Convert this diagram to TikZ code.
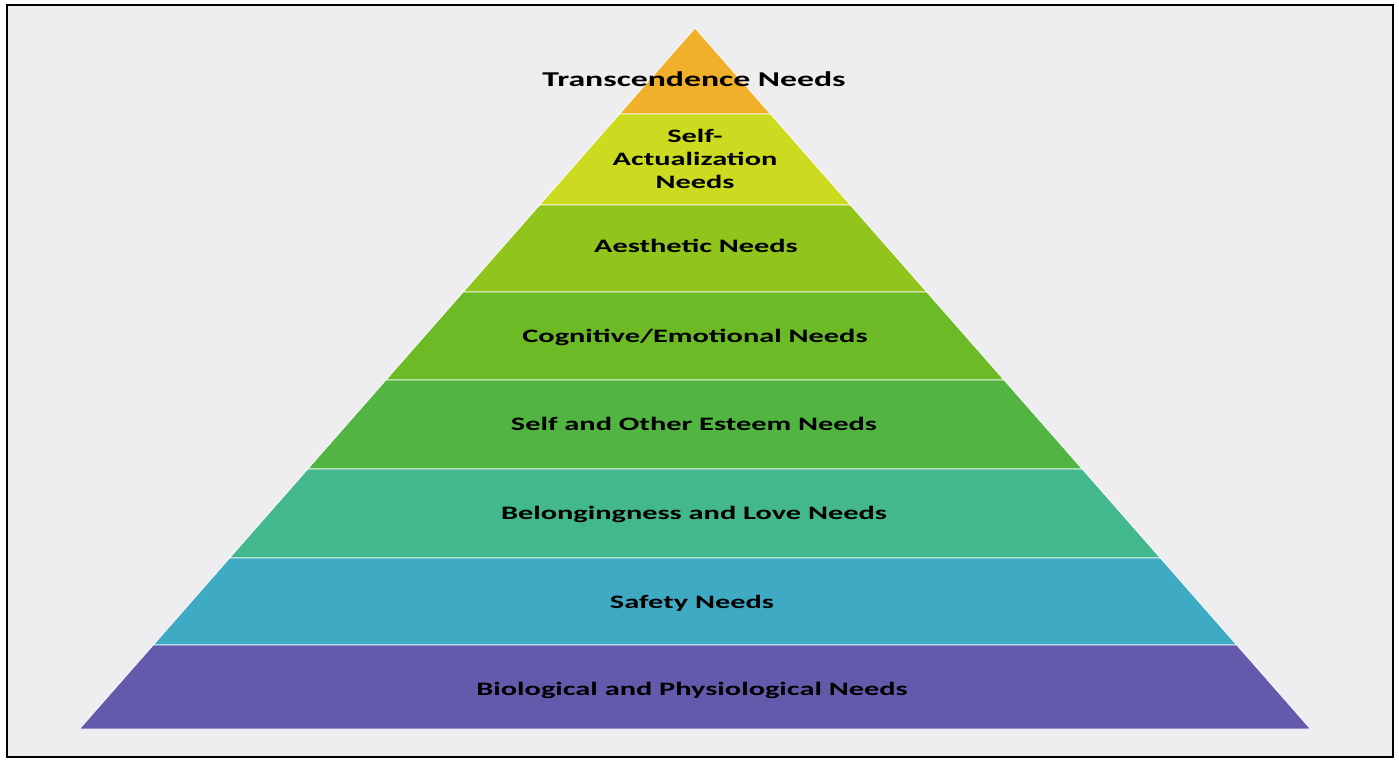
\documentclass[tikz,border=0pt]{standalone}
\usepackage{fontspec}
\setmainfont{Carlito}
\usepackage{tikz}

\definecolor{paper}{RGB}{238,238,241}
\definecolor{transc}{RGB}{240,176,42}
\definecolor{selfact}{RGB}{204,219,32}
\definecolor{aesth}{RGB}{146,196,30}
\definecolor{cogn}{RGB}{108,186,38}
\definecolor{esteem}{RGB}{82,181,66}
\definecolor{belong}{RGB}{66,184,140}
\definecolor{safety}{RGB}{62,170,196}
\definecolor{bio}{RGB}{100,90,172}

\newcommand{\wide}[1]{\scalebox{1.6}[1]{#1}}

\begin{document}
\begin{tikzpicture}[x=0.25mm, y=-0.25mm,
    band/.style={draw=white, line width=0.5pt, line join=miter},
    need/.style={font=\fontsize{13.5}{16.3}\selectfont\bfseries, text=black, inner sep=0pt}]
        \useasboundingbox (0,0) rectangle (1399,761);

        % Page and frame
        \fill[white] (0,0) rectangle (1399,761);
        \draw[fill=paper, line width=0.6mm] (7,5) rectangle (1393,757);

        % Pyramid bands (apex at 695/28, base 77--1313 at y=729)
        \foreach \ytop/\ybot/\col in {28/114/transc, 114/205/selfact, 205/292/aesth,
                292/380/cogn, 380/469/esteem, 469/558/belong, 558/645/safety, 645/729/bio} {
            \pgfmathsetmacro\wt{0.87803*(\ytop-28)}
            \pgfmathsetmacro\wb{0.87803*(\ybot-28)}
            \fill[band, fill=\col] (695-\wt,\ytop) -- (695+\wt,\ytop)
                -- (695+\wb,\ybot) -- (695-\wb,\ybot) -- cycle;
        }

        % Labels
        \node[need, anchor=base, font=\fontsize{15}{18}\selectfont\bfseries] (transcendence)
            at (694,86) {\wide{Transcendence Needs}};
        \node[need, align=center] (actualization) at (695,159)
            {\wide{Self-}\\\wide{Actualization}\\\wide{Needs}};
        \node[need, anchor=base] (aesthetic) at (696,252) {\wide{Aesthetic Needs}};
        \node[need, anchor=base] (cognitive) at (695,342) {\wide{Cognitive/Emotional Needs}};
        \node[need, anchor=base] (esteem) at (694,430) {\wide{Self and Other Esteem Needs}};
        \node[need, anchor=base] (belonging) at (694,519) {\wide{Belongingness and Love Needs}};
        \node[need, anchor=base] (safety) at (692,608) {\wide{Safety Needs}};
        \node[need, anchor=base] (biological) at (692,695) {\wide{Biological and Physiological Needs}};
    \end{tikzpicture}
\end{document}
